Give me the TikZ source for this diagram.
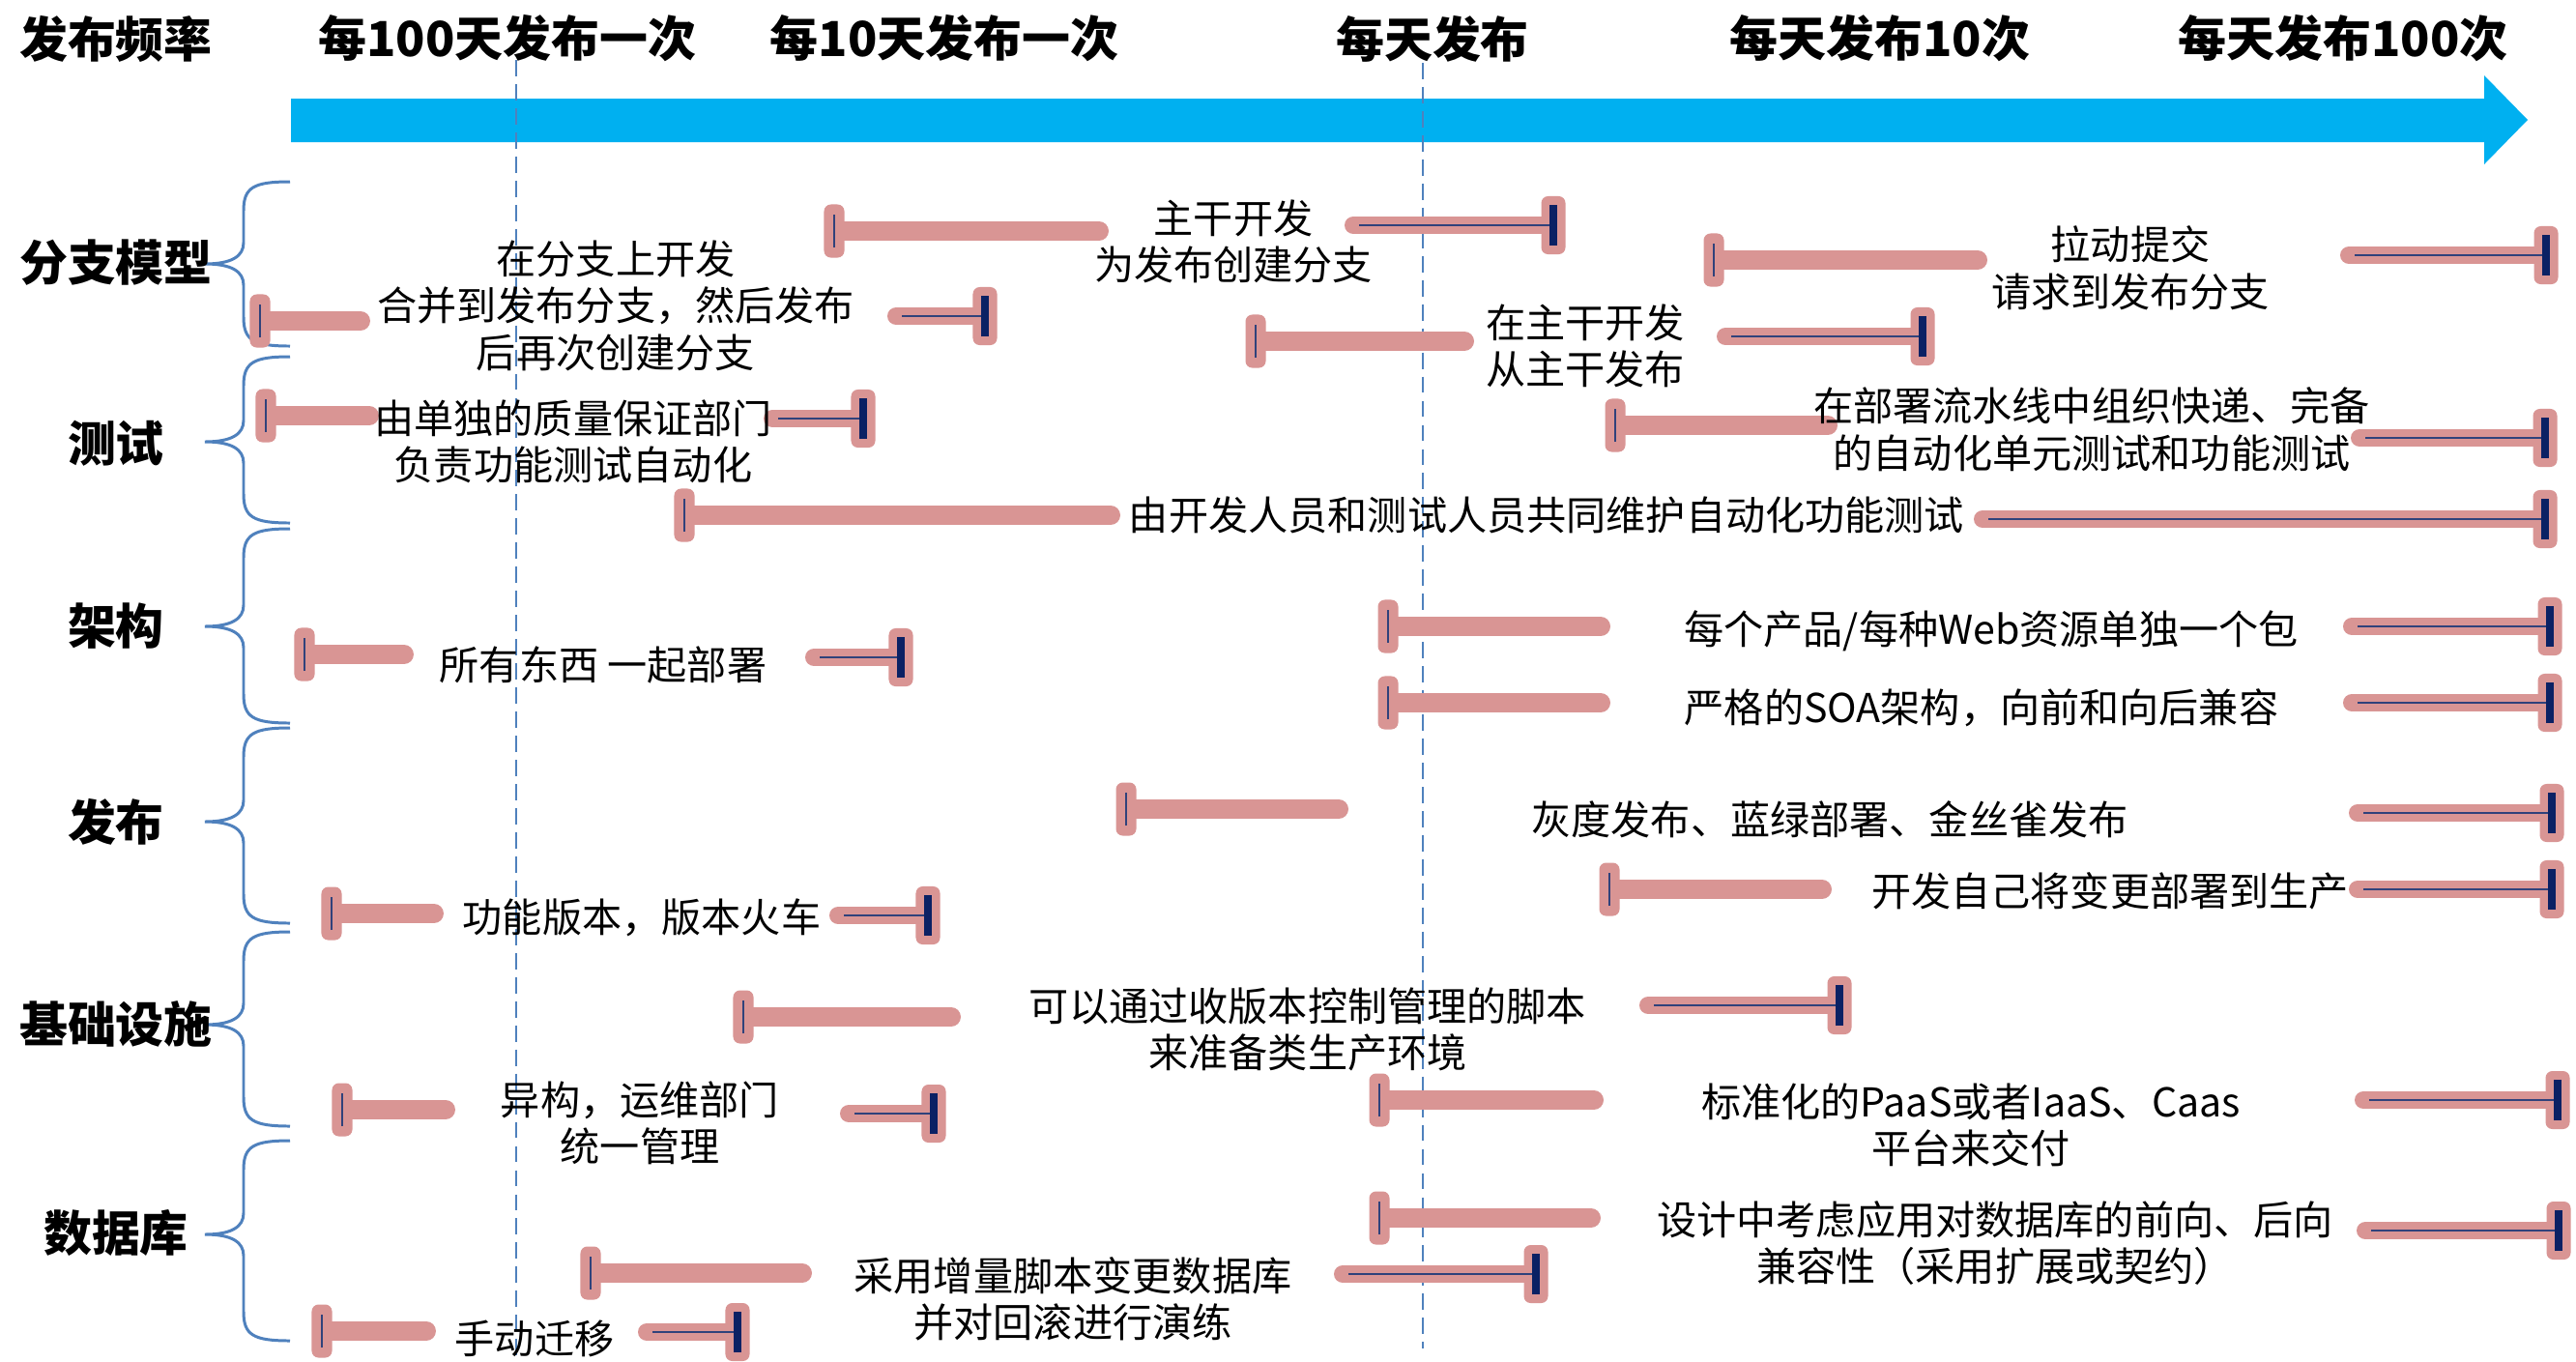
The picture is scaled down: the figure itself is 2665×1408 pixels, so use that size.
\documentclass[tikz,border=0pt]{standalone}
\usepackage{fontspec}
\setmainfont{Noto Sans CJK SC}
\definecolor{barpink}{HTML}{D99594}
\definecolor{navybar}{HTML}{0B2164}
\definecolor{arrowblue}{HTML}{00B0F0}
\definecolor{braceblue}{HTML}{4F81BD}

\begin{document}
\begin{tikzpicture}[x=0.01cm,y=-0.01cm,
  lcap/.style={fill=barpink,rounded corners=2pt,minimum width=0.21cm,minimum height=0.55cm,inner sep=0pt},
  rcap/.style={fill=barpink,rounded corners=2pt,minimum width=0.25cm,minimum height=0.6cm,inner sep=0pt},
  lbar/.style={draw=barpink,line width=5.8pt,line cap=round,shorten >=2.9pt},
  rbar/.style={draw=barpink,line width=5.2pt,line cap=round,shorten <=2.6pt},
  navythin/.style={draw=navybar!85!white,line width=0.5pt},
  navythick/.style={draw=navybar,line width=2.3pt},
  item/.style={font=\fontsize{11.7}{13.8}\selectfont,align=center,inner sep=0pt},
  head/.style={font=\fontsize{14.2}{16}\selectfont\bfseries,inner sep=0pt},
  guide/.style={draw=braceblue,line width=0.6pt,dash pattern=on 4.8pt off 2.3pt},
  catbrace/.style={draw=braceblue,line width=0.85pt}]
  \useasboundingbox (0,0) rectangle (2665,1408);
  \fill[white] (0,0) rectangle (2665,1408);

  % frequency axis
  \fill[arrowblue] (301,102) -- (2570,102) -- (2570,78) -- (2615,124) -- (2570,170) -- (2570,147) -- (301,147) -- cycle;
  \draw[guide] (534,62) -- (534,1402);
  \draw[guide] (1472,65) -- (1472,1395);

  \node[head] (freq) at (120,40) {发布频率};
  \node[head] (f100) at (525,40) {每100天发布一次};
  \node[head] (f10) at (977,40) {每10天发布一次};
  \node[head] (f1) at (1482,40) {每天发布};
  \node[head] (d10) at (1945,40) {每天发布10次};
  \node[head] (d100) at (2424,40) {每天发布100次};

  % categories
  \foreach \ya/\ym/\yb in {188/273/358,369/457/541,547/648/748,753/850/955,964/1060/1165,1180/1277/1387}
    \draw[catbrace] (300,\ya) .. controls (262,\ya) and (252,\ya+6) .. (252,\ya+30) -- (252,\ym-22)
      .. controls (252,\ym-8) and (240,\ym) .. (212,\ym) .. controls (240,\ym) and (252,\ym+8) .. (252,\ym+22)
      -- (252,\yb-30) .. controls (252,\yb-6) and (262,\yb) .. (300,\yb);

  \node[head] (cbr) at (120,272) {分支模型};
  \node[head] (cte) at (120,459) {测试};
  \node[head] (car) at (120,648) {架构};
  \node[head] (cre) at (120,850) {发布};
  \node[head] (cin) at (120,1059) {基础设施};
  \node[head] (cdb) at (120,1275) {数据库};

  % spans: start cap, bar end, bar y, bar start, end cap, bar y
  \foreach \n/\xa/\xb/\ya/\xc/\xd/\yb in {
      b1/269/383/332/918/1019/327, b2/863/1147/239/1391/1607/233,
      b3/1299/1525/353/1776/1989/348, b4/1773/2056/269/2421/2634/264,
      t1/275/392/430/790/893/433, t2/1671/1901/440/2432/2633/453,
      t3/708/1159/533/2042/2633/537,
      a1/315/428/677/833/932/680, a2/1436/1666/648/2424/2638/648,
      a3/1436/1666/727/2424/2638/727,
      r1/1165/1395/837/2430/2640/841, r2/1665/1895/920/2430/2640/920,
      r3/343/459/945/858/960/947,
      i1/769/994/1052/1696/1903/1040, i2/354/471/1148/869/966/1152,
      i3/1427/1659/1138/2436/2646/1138,
      d1/1427/1656/1260/2438/2647/1273, d2/611/840/1317/1380/1589/1318,
      d3/333/451/1377/660/763/1378}{
    \node[lcap] (\n-L) at (\xa,\ya) {};
    \coordinate (\n-l) at (\xb,\ya);
    \draw[lbar] (\n-L) -- (\n-l);
    \draw[navythin] ([yshift=-0.17cm]\n-L.center) -- ([yshift=0.17cm]\n-L.center);
    \coordinate (\n-r) at (\xc,\yb);
    \node[rcap] (\n-R) at (\xd,\yb) {};
    \draw[rbar] (\n-r) -- (\n-R);
    \draw[navythin] ([xshift=0.15cm]\n-r) -- (\n-R.center);
    \draw[navythick] ([yshift=-0.21cm]\n-R.center) -- ([yshift=0.21cm]\n-R.center);
  }

  \node[item] (b1) at (637,316) {在分支上开发\\合并到发布分支，然后发布\\后再次创建分支};
  \node[item] (b2) at (1276,250) {主干开发\\为发布创建分支};
  \node[item] (b3) at (1640,358) {在主干开发\\从主干发布};
  \node[item] (b4) at (2204,277) {拉动提交\\请求到发布分支};
  \node[item] (t1) at (593,457) {由单独的质量保证部门\\负责功能测试自动化};
  \node[item] (t2) at (2164,444) {在部署流水线中组织快递、完备\\的自动化单元测试和功能测试};
  \node[item] (t3) at (1600,533) {由开发人员和测试人员共同维护自动化功能测试};
  \node[item] (a1) at (624,688) {所有东西 一起部署};
  \node[item] (a2) at (2060,653) {每个产品/每种Web资源单独一个包};
  \node[item] (a3) at (2050,732) {严格的SOA架构，向前和向后兼容};
  \node[item] (r1) at (1893,848) {灰度发布、蓝绿部署、金丝雀发布};
  \node[item] (r2) at (2183,922) {开发自己将变更部署到生产};
  \node[item] (r3) at (664,949) {功能版本，版本火车};
  \node[item] (i1) at (1353,1065) {可以通过收版本控制管理的脚本\\来准备类生产环境};
  \node[item] (i2) at (662,1162) {异构，运维部门\\统一管理};
  \node[item] (i3) at (2039,1164) {标准化的PaaS或者IaaS、Caas\\平台来交付};
  \node[item] (d1) at (2064,1286) {设计中考虑应用对数据库的前向、后向\\兼容性（采用扩展或契约）};
  \node[item] (d2) at (1110,1344) {采用增量脚本变更数据库\\并对回滚进行演练};
  \node[item] (d3) at (553,1385) {手动迁移};
\end{tikzpicture}
\end{document}
